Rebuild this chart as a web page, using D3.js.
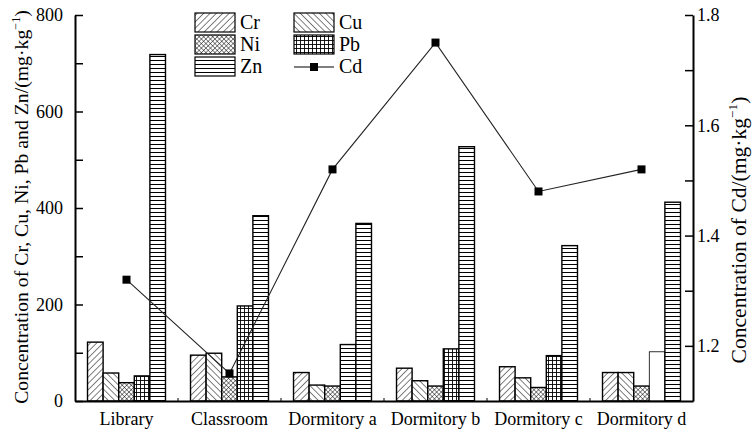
<!DOCTYPE html>
<html><head><meta charset="utf-8">
<script src="https://cdn.jsdelivr.net/npm/d3@7"></script>
<style>
body{margin:0;background:#fff;}
svg{display:block;}
</style></head>
<body>
<script>
const categories = ["Library","Classroom","Dormitory a","Dormitory b","Dormitory c","Dormitory d"];
const metals = ["Cr","Cu","Ni","Pb","Zn"];
const Cr = [122, 95, 59, 68, 71, 59];
const Cu = [58, 99, 33, 42, 48, 59];
const Ni = [38, 50, 31, 31, 28, 31];
const Pb = [52, 197, 117, 108, 94, 102];
const Zn = [718, 384, 368, 527, 322, 412];
const Cd = [1.32, 1.15, 1.52, 1.75, 1.48, 1.52];
const leftTicks = [0,100,200,300,400,500,600,700,800];
const rightTicks = [1.2,1.3,1.4,1.5,1.6,1.7,1.8];

const series = {Cr, Cu, Ni, Pb, Zn};
// pattern used per metal; Pb texture varies in the scanned reference
const pbPatternByCat = ["pGrid","pGrid","pH","pGrid","pGrid","pBlank"];
const patternOf = {Cr:"pCr", Cu:"pCu", Ni:"pNi", Zn:"pH"};
const FONT = "'Liberation Serif', 'Times New Roman', 'DejaVu Serif', serif";

const W = 753, H = 431;
const svg = d3.select("body").append("svg").attr("width",W).attr("height",H);
const defs = svg.append("defs");

function linePattern(id, size, rot, paths, sw){
  const p = defs.append("pattern").attr("id",id).attr("patternUnits","userSpaceOnUse")
    .attr("width",size).attr("height",size);
  if(rot) p.attr("patternTransform",`rotate(${rot})`);
  p.append("rect").attr("width",size).attr("height",size).attr("fill","#fff");
  paths.forEach(d=>p.append("path").attr("d",d).attr("stroke","#000").attr("stroke-width",sw).attr("fill","none"));
}
linePattern("pCr", 4.5, 45, ["M0,0V4.5"], 1);
linePattern("pCu", 4.5, -45, ["M0,0V4.5"], 1);
linePattern("pNi", 3.2, 45, ["M0,0V3.2","M0,0H3.2"], 0.9);
linePattern("pGrid", 4, 0, ["M0.5,0V4","M0,0.5H4"], 0.9);
linePattern("pH", 4, 0, ["M0,0.5H4"], 1);
defs.append("pattern").attr("id","pBlank").attr("patternUnits","userSpaceOnUse")
  .attr("width",4).attr("height",4).append("rect").attr("width",4).attr("height",4).attr("fill","#fff");

const pLeft = 75, pRight = 693, pTop = 15, pBottom = 401;
const x0 = d3.scaleBand().domain(categories).range([pLeft,pRight]).paddingInner(0.243).paddingOuter(0.1215);
const x1 = d3.scaleBand().domain(metals).range([0,x0.bandwidth()]);
const yL = d3.scaleLinear().domain([0,800]).range([pBottom,pTop]);
const yR = d3.scaleLinear().domain([1.1,1.8]).range([pBottom,pTop]);

// bars
const g = svg.append("g");
categories.forEach((c,i)=>{
  metals.forEach(m=>{
    const v = series[m][i];
    const fillId = m==="Pb" ? pbPatternByCat[i] : patternOf[m];
    g.append("rect")
      .attr("x", x0(c)+x1(m)).attr("y", yL(v))
      .attr("width", x1.bandwidth()).attr("height", yL(0)-yL(v))
      .attr("fill", `url(#${fillId})`)
      .attr("stroke","#000").attr("stroke-width", fillId==="pBlank"?0.8:1.4);
  });
});

// axes
const fs = 18;
function styleAxis(ax){
  ax.attr("font-family",null).attr("font-size",null);
  ax.select(".domain").attr("stroke","#000").attr("stroke-width",2);
  ax.selectAll(".tick line").attr("stroke","#000").attr("stroke-width",1.5);
  ax.selectAll(".tick text").style("font-size",fs+"px").attr("fill","#000");
}
const axL = svg.append("g").attr("transform",`translate(${pLeft},0)`)
  .call(d3.axisLeft(yL).tickValues(leftTicks).tickSizeInner(-8).tickSizeOuter(0)
    .tickFormat(d=> d%200===0 ? d : ""));
styleAxis(axL);
axL.selectAll(".tick text").attr("x",-12);

const axR = svg.append("g").attr("transform",`translate(${pRight},0)`)
  .call(d3.axisRight(yR).tickValues(rightTicks).tickSizeInner(-8).tickSizeOuter(0)
    .tickFormat(d=> Math.round(d*10)%2===0 ? d.toFixed(1) : ""));
styleAxis(axR);
axR.selectAll(".tick text").attr("x",4);

const axB = svg.append("g").attr("transform",`translate(0,${pBottom})`)
  .call(d3.axisBottom(x0).tickSize(0));
styleAxis(axB);
axB.selectAll(".tick text").attr("y",11).attr("dy","0.71em");
axB.selectAll(".sep").data(categories.slice(1)).join("line").attr("class","sep")
  .attr("x1",d=>x0(d)-x0.step()*x0.paddingInner()/2).attr("x2",d=>x0(d)-x0.step()*x0.paddingInner()/2)
  .attr("y1",0).attr("y2",-3).attr("stroke","#000").attr("stroke-width",1);

// Cd line
const line = d3.line().x((d,i)=>x0(categories[i])+x0.bandwidth()/2).y(d=>yR(d));
svg.append("path").datum(Cd).attr("d",line).attr("fill","none").attr("stroke","#222").attr("stroke-width",1.1);
svg.selectAll(".cdm").data(Cd).join("rect").attr("class","cdm")
  .attr("x",(d,i)=>x0(categories[i])+x0.bandwidth()/2-4).attr("y",d=>yR(d)-4)
  .attr("width",8).attr("height",8).attr("fill","#000");

// axis titles, sized to span the same length as in the reference
function axisTitle(cx, cy, txt, target){
  const t = svg.append("text").attr("transform",`translate(${cx},${cy}) rotate(-90)`)
    .attr("text-anchor","middle").style("font-family",FONT).style("font-size","18px");
  t.append("tspan").text(txt);
  t.append("tspan").style("font-size","0.62em").attr("dy","-0.42em").text("−1");
  t.append("tspan").attr("dy","0.42em").text(")");
  const len = t.node().getComputedTextLength();
  const f = Math.max(14, Math.min(24, 18*target/len));
  t.style("font-size", f+"px");
  t.selectAll("tspan").filter((d,i)=>i===1).attr("dy",(-0.42*f)+"px");
  t.selectAll("tspan").filter((d,i)=>i===2).attr("dy",(0.42*f)+"px");
  return t;
}
axisTitle(28, 207, "Concentration of Cr, Cu, Ni, Pb and Zn/(mg·kg", 394);
axisTitle(746, 230, "Concentration of Cd/(mg·kg", 267);

// legend
const legItems = [
  {name:"Cr", col:0, row:0, fill:"pCr"},
  {name:"Ni", col:0, row:1, fill:"pNi"},
  {name:"Zn", col:0, row:2, fill:"pH"},
  {name:"Cu", col:1, row:0, fill:"pCu"},
  {name:"Pb", col:1, row:1, fill:"pGrid"},
  {name:"Cd", col:1, row:2, fill:null}
];
const lg = svg.append("g");
legItems.forEach(it=>{
  const bx = 195 + it.col*99, by = 13 + it.row*22;
  if(it.fill){
    lg.append("rect").attr("x",bx).attr("y",by).attr("width",40).attr("height",19)
      .attr("fill",`url(#${it.fill})`).attr("stroke","#000").attr("stroke-width",1.2);
  } else {
    lg.append("line").attr("x1",bx).attr("x2",bx+40).attr("y1",by+10).attr("y2",by+10).attr("stroke","#000").attr("stroke-width",1.1);
    lg.append("rect").attr("x",bx+16).attr("y",by+6).attr("width",8).attr("height",8).attr("fill","#000");
  }
  lg.append("text").attr("x",bx+45).attr("y",by+16).style("font-size","20px").text(it.name);
});

svg.selectAll("text").style("font-family",FONT).attr("fill","#000");
</script>
</body></html>
